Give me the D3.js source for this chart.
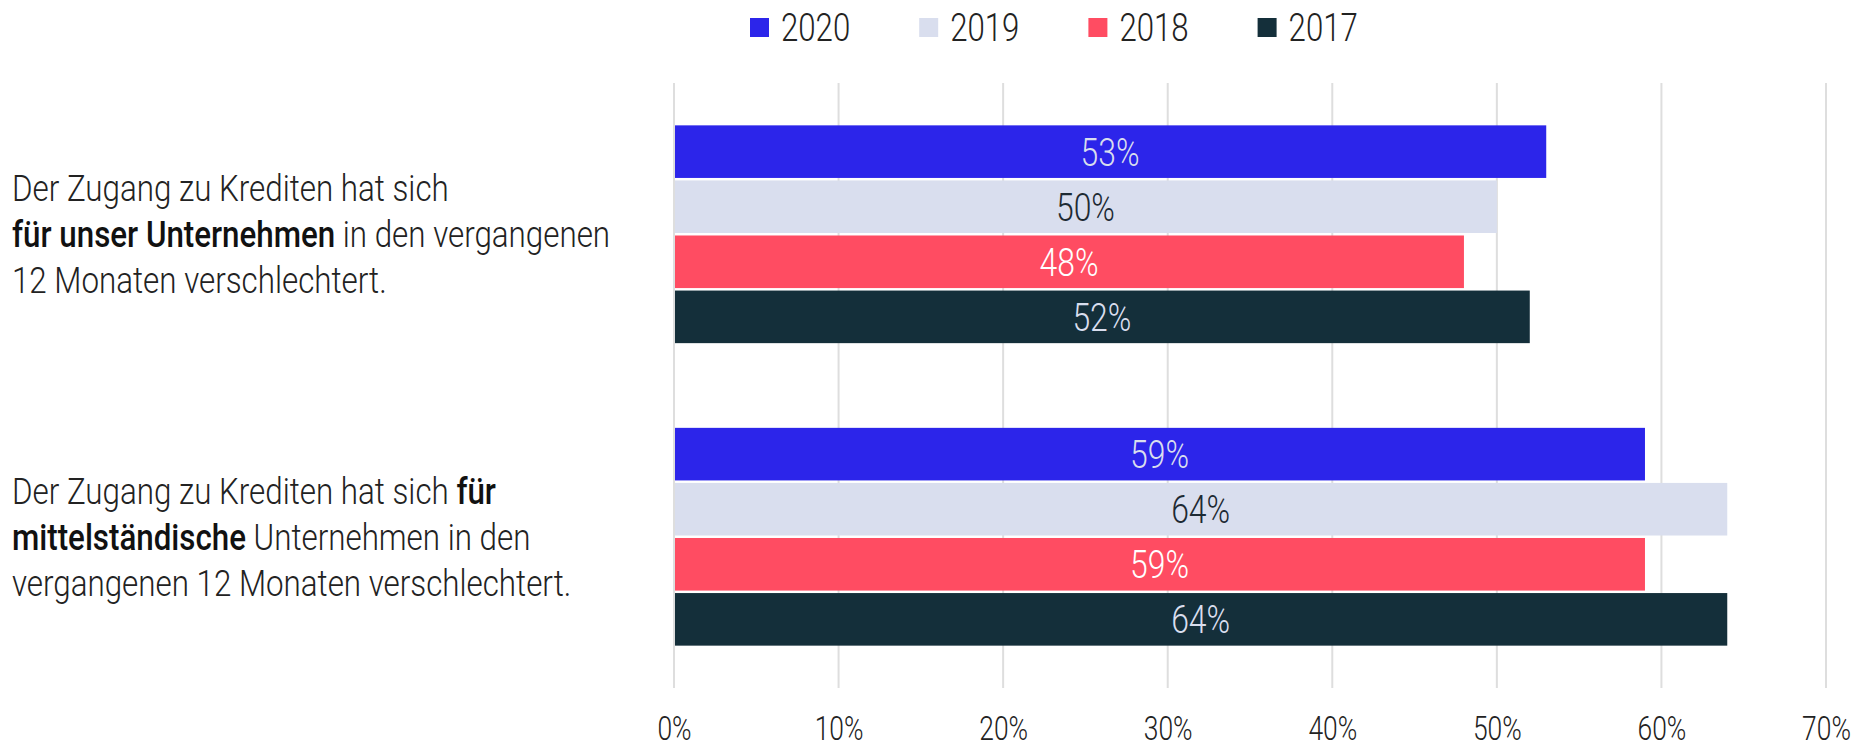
<!DOCTYPE html>
<html>
<head>
<meta charset="utf-8">
<script src="https://cdn.jsdelivr.net/npm/d3@7"></script>
<style>
  body { margin: 0; background: #fff; }
  text { font-family: Roboto, "Noto Sans", sans-serif; font-weight: 300; }
</style>
</head>
<body>
<div id="chart"></div>
<script>
// chart data
var categories = ["unser", "mittel"];
var years = ["2020", "2019", "2018", "2017"];
var values2020 = [53, 59];
var values2019 = [50, 64];
var values2018 = [48, 59];
var values2017 = [52, 64];
var tickValues = [0, 10, 20, 30, 40, 50, 60, 70];

// category labels, line by line; bold parts marked with b
var labelLines = [
  [[{t: "Der Zugang zu Krediten hat sich"}],
   [{t: "für unser Unternehmen", b: true}, {t: " in den vergangenen"}],
   [{t: "12 Monaten verschlechtert."}]],
  [[{t: "Der Zugang zu Krediten hat sich "}, {t: "für", b: true}],
   [{t: "mittelständische", b: true}, {t: " Unternehmen in den"}],
   [{t: "vergangenen 12 Monaten verschlechtert."}]]
];

var colors = {"2020": "#2c25ea", "2019": "#d9deee", "2018": "#ff4c62", "2017": "#142f3a"};
var labelColors = {"2020": "#d9deee", "2019": "#1d2a33", "2018": "#ffffff", "2017": "#d9deee"};

var series = {"2020": values2020, "2019": values2019, "2018": values2018, "2017": values2017};

var width = 1875, height = 748;
var sx = 0.8;       // condense text horizontally (original font is a narrow one)
var sxLabel = 0.87; // category labels

var svg = d3.select("#chart").append("svg")
    .attr("width", width)
    .attr("height", height);

var x = d3.scaleLinear()
    .domain([0, 70])
    .range([674, 1826]);

var y0 = d3.scaleBand()
    .domain(categories)
    .range([83, 688])
    .paddingInner(0.28)
    .paddingOuter(0.14);

var y1 = d3.scaleBand()
    .domain(years)
    .range([0, y0.bandwidth()])
    .paddingInner(0.045);

// gridlines
svg.append("g").selectAll("line").data(tickValues).enter()
  .append("line")
    .attr("x1", function(d) { return x(d); })
    .attr("x2", function(d) { return x(d); })
    .attr("y1", 83)
    .attr("y2", 688)
    .attr("stroke", "#dedede")
    .attr("stroke-width", 2);

// x axis labels
var xAxis = d3.axisBottom(x)
    .tickValues(tickValues)
    .tickFormat(function(d) { return d + "%"; })
    .tickSize(0)
    .tickPadding(0);

var ax = svg.append("g")
    .attr("transform", "translate(0,710)")
    .call(xAxis);
ax.select(".domain").remove();
ax.selectAll("text")
    .attr("dy", null)
    .attr("y", 30)
    .attr("transform", "scale(" + sx + ",1)")
    .style("font-size", "33px")
    .style("font-family", "Roboto, sans-serif")
    .style("font-weight", 300)
    .attr("fill", "#222");

// bars
var rows = [];
categories.forEach(function(c, i) {
  years.forEach(function(yr) {
    rows.push({cat: c, year: yr, value: series[yr][i]});
  });
});

var g = svg.append("g");

g.selectAll("rect").data(rows).enter()
  .append("rect")
    .attr("x", x(0) + 1)
    .attr("y", function(d) { return y0(d.cat) + y1(d.year); })
    .attr("width", function(d) { return x(d.value) - x(0) - 1; })
    .attr("height", y1.bandwidth())
    .attr("fill", function(d) { return colors[d.year]; });

g.selectAll(".value").data(rows).enter()
  .append("text")
    .attr("class", "value")
    .attr("transform", function(d) {
      var cx = (x(0) + x(d.value)) / 2;
      var cy = y0(d.cat) + y1(d.year) + y1.bandwidth() / 2 + 14;
      return "translate(" + cx + "," + cy + ") scale(0.84,1)";
    })
    .attr("text-anchor", "middle")
    .style("font-size", "38px")
    .attr("fill", function(d) { return labelColors[d.year]; })
    .text(function(d) { return d.value + "%"; });

// category labels
var lineHeight = 46;
categories.forEach(function(c, i) {
  var cy = y0(c) + y0.bandwidth() / 2;
  var t = svg.append("text")
      .attr("transform", "translate(12," + (cy + 13) + ") scale(" + sxLabel + ",1)")
      .style("font-size", "36px")
      .attr("fill", "#222");
  labelLines[i].forEach(function(parts, li) {
    parts.forEach(function(p, pi) {
      var sp = t.append("tspan")
          .style("font-weight", p.b ? 500 : 300)
          .attr("fill", p.b ? "#111" : "#222")
          .text(p.t);
      if (pi == 0) sp.attr("x", 0).attr("y", (li - 1) * lineHeight);
    });
  });
});

// legend
var legend = svg.append("g");
var lx = 750;
years.forEach(function(yr) {
  legend.append("rect")
      .attr("x", lx)
      .attr("y", 18)
      .attr("width", 19)
      .attr("height", 19)
      .attr("fill", colors[yr]);
  var lt = legend.append("text")
      .attr("transform", "translate(" + (lx + 31) + ",41) scale(" + sx + ",1)")
      .style("font-size", "39px")
      .attr("fill", "#222")
      .text(yr);
  lx = lx + 31 + lt.node().getComputedTextLength() * sx + 69;
});
</script>
</body>
</html>
